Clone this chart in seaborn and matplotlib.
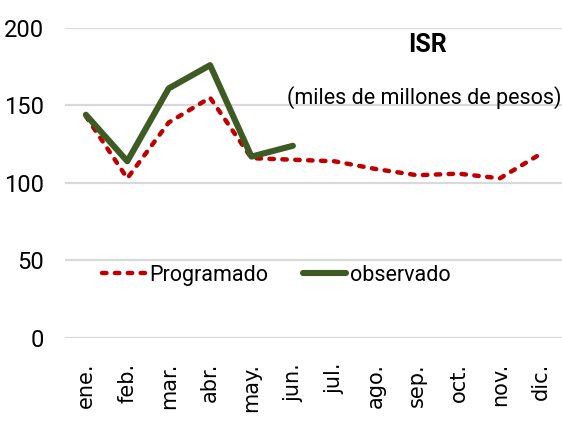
import matplotlib
matplotlib.use("Agg")
import matplotlib.pyplot as plt
import seaborn as sns
import pandas as pd

months = ["ene.", "feb.", "mar.", "abr.", "may.", "jun.", "jul.", "ago.", "sep.", "oct.", "nov.", "dic."]
programado = [143, 103, 139, 155, 116, 115, 114, 109, 105, 106, 103, 119]
observado = [144, 114, 161, 176, 117, 124]

sns.set_theme(style="white")
plt.rcParams["font.family"] = ["Roboto", "DejaVu Sans"]

fig = plt.figure(figsize=(5.62, 4.30), dpi=100)
ax = fig.add_axes([0.116, 0.214, 0.884, 0.721])

df_p = pd.DataFrame({"mes": months, "valor": programado})
df_o = pd.DataFrame({"mes": months[:len(observado)], "valor": observado})

sns.lineplot(data=df_p, x="mes", y="valor", ax=ax, color="#C00000", linewidth=3.2,
             label="Programado", sort=False)
sns.lineplot(data=df_o, x="mes", y="valor", ax=ax, color="#3D5B23", linewidth=4.4,
             label="observado", sort=False)
lp, lo = ax.lines[0], ax.lines[1]
lp.set_dashes((1.0, 1.9))
lp.set_dash_capstyle("round")
lo.set_solid_capstyle("round")

ax.set_xlim(-0.5, 11.5)
ax.set_ylim(0, 200)
ax.yaxis.grid(True, color="#D9D9D9", linewidth=1.6)
ax.set_axisbelow(True)
for s in ax.spines.values():
    s.set_visible(False)
ax.set_xlabel("")
ax.set_ylabel("")
ax.tick_params(axis="y", length=0, pad=15)
ax.tick_params(axis="x", length=0, pad=18)
ax.set_yticks([0, 50, 100, 150, 200])
ax.set_yticklabels(["0", "50", "100", "150", "200"], fontsize=17, color="black")
ax.set_xticks(range(len(months)))
ax.set_xticklabels(months, rotation=90, fontsize=15, family="DejaVu Sans", color="black")

leg = ax.legend(loc="center", bbox_to_anchor=(0.425, 0.203), ncol=2, frameon=False,
                prop={"size": 15.5}, handlelength=2.0, columnspacing=1.6, handletextpad=0.2)
for t in leg.get_texts():
    t.set_color("black")
for h in leg.get_lines():
    if h.get_label() == "Programado":
        h.set_dashes((1.0, 1.9))
        h.set_dash_capstyle("round")

ax.text(0.73, 0.945, "ISR", transform=ax.transAxes, fontsize=18, fontweight="bold",
        ha="center", va="center", color="black")
ax.text(0.722, 0.777, "(miles de millones de pesos)", transform=ax.transAxes, fontsize=15.5,
        ha="center", va="center", color="black")

fig.savefig("out.png", dpi=100)
